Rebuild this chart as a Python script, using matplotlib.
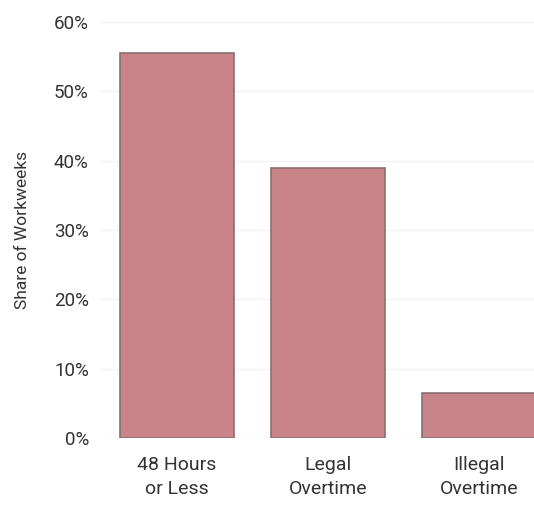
import matplotlib
matplotlib.use("Agg")
import matplotlib.pyplot as plt
from matplotlib.ticker import FuncFormatter

categories = ["48 Hours\nor Less", "Legal\nOvertime", "Illegal\nOvertime"]
shares = [55.5, 39.0, 6.5]
yticks = [0, 10, 20, 30, 40, 50, 60]

plt.rcParams['font.family'] = ['Roboto', 'DejaVu Sans']

fig = plt.figure(figsize=(5.34, 5.07), dpi=100)
ax = fig.add_axes([100/534, 69/507, 1 - 100/534, (438-22)/507])

x = list(range(len(categories)))
ax.bar(x, shares, width=0.755, color="#c9848a", edgecolor="#8c6e70", linewidth=1.2, zorder=3)

ax.set_xlim(-0.51, 2.364)
ax.set_ylim(0, 60)
ax.set_yticks(yticks)
ax.yaxis.set_major_formatter(FuncFormatter(lambda v, p: f"{int(v)}%"))
ax.grid(axis="y", color="#f2f2f2", linewidth=1, zorder=0)
ax.set_xticks(x)
ax.set_xticklabels(categories, fontsize=14, color="#333333", linespacing=1.45)
ax.tick_params(axis="y", labelsize=13.5, colors="#333333", length=0, pad=8)
ax.tick_params(axis="x", length=0, pad=13)
for s in ax.spines.values():
    s.set_visible(False)
ax.set_ylabel("Share of Workweeks", fontsize=12.5, color="#333333", labelpad=17)

fig.savefig("out.png", dpi=100)
